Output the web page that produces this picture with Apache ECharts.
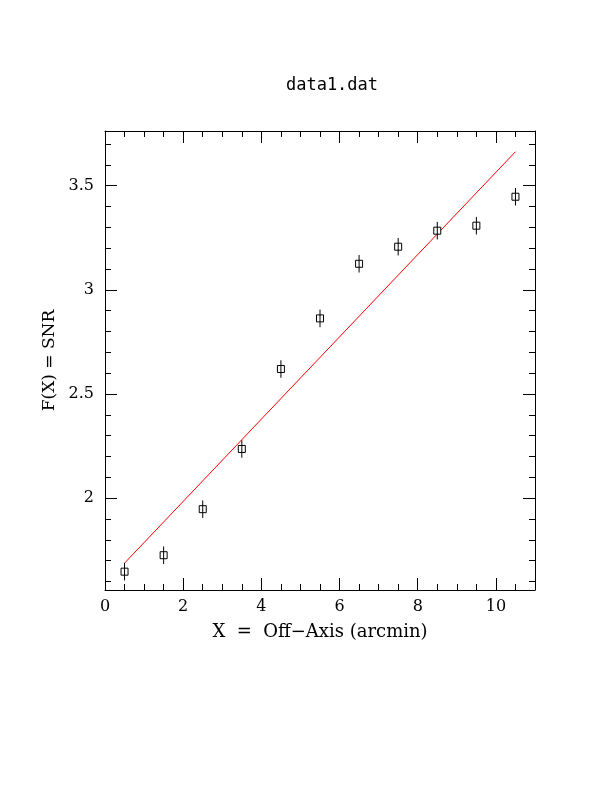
<!DOCTYPE html>
<html>
<head>
<meta charset="utf-8">
<script src="https://cdn.jsdelivr.net/npm/echarts@6/dist/echarts.min.js"></script>
<style>
  html, body { margin: 0; padding: 0; background: #fff; }
  #chart { width: 612px; height: 792px; }
</style>
</head>
<body>
<div id="chart"></div>
<script>
// off-axis position (arcmin) and measured SNR with error
const offAxis = [0.5, 1.5, 2.5, 3.5, 4.5, 5.5, 6.5, 7.5, 8.5, 9.5, 10.5]
const snr = [1.647, 1.726, 1.947, 2.236, 2.620, 2.863, 3.125, 3.207, 3.284, 3.308, 3.447]
const snrErr = [0.042, 0.042, 0.042, 0.042, 0.042, 0.042, 0.042, 0.042, 0.042, 0.042, 0.042]
// straight fit line
const fitX = [0.5, 10.5]
const fitY = [1.688, 3.663]

const serif = 'DejaVu Serif'
const points = offAxis.map((x, i) => [x, snr[i], snrErr[i]])

const myChart = echarts.init(document.getElementById('chart'))

const axisCommon = {
    axisLine: { show: true, onZero: false, lineStyle: { color: '#000', width: 1 } },
    axisTick: { show: true, inside: true, length: 12, lineStyle: { color: '#000', width: 1 } },
    minorTick: { show: true, length: 6, lineStyle: { color: '#000', width: 1 } },
    splitLine: { show: false },
    minorSplitLine: { show: false }
}

function xAxisDef(pos, labels) {
    return Object.assign({}, axisCommon, {
        type: 'value',
        position: pos,
        min: 0,
        max: 11,
        minInterval: 2,
        maxInterval: 2,
        minorTick: Object.assign({}, axisCommon.minorTick, { splitNumber: 4 }),
        axisLabel: {
            show: labels,
            margin: 9,
            color: '#000',
            fontFamily: serif,
            fontSize: 16,
            formatter: v => (Math.abs(v / 2 - Math.round(v / 2)) < 1e-6 ? String(v) : '')
        },
        name: labels ? 'X  =  Off\u2212Axis (arcmin)' : '',
        nameLocation: 'middle',
        nameGap: 33,
        nameTextStyle: { color: '#000', fontFamily: serif, fontSize: 18 }
    })
}

function yAxisDef(pos, labels) {
    return Object.assign({}, axisCommon, {
        type: 'value',
        position: pos,
        min: 1.559,
        max: 3.7625,
        minInterval: 0.5,
        maxInterval: 0.5,
        minorTick: Object.assign({}, axisCommon.minorTick, { splitNumber: 5 }),
        axisLabel: {
            show: labels,
            margin: 11,
            color: '#000',
            fontFamily: serif,
            fontSize: 16,
            formatter: v => (Math.abs(v * 2 - Math.round(v * 2)) < 1e-6 ? String(Math.round(v * 2) / 2) : '')
        },
        name: labels ? 'F(X) = SNR' : '',
        nameLocation: 'middle',
        nameGap: 46,
        nameTextStyle: { color: '#000', fontFamily: serif, fontSize: 17 }
    })
}

myChart.setOption({
    animation: false,
    backgroundColor: '#fff',
    title: {
        text: 'data1.dat',
        left: 327,
        top: 72,
        textAlign: 'center',
        textStyle: { color: '#000', fontFamily: 'DejaVu Sans Mono', fontWeight: 'normal', fontSize: 17 }
    },
    grid: { left: 105, right: 77, top: 131, bottom: 202 },
    xAxis: [xAxisDef('bottom', true), xAxisDef('top', false)],
    yAxis: [yAxisDef('left', true), yAxisDef('right', false)],
    series: [
        {
            type: 'line',
            data: fitX.map((x, i) => [x, fitY[i]]),
            showSymbol: false,
            lineStyle: { color: '#ff0000', width: 1 },
            z: 2
        },
        {
            type: 'custom',
            data: points,
            z: 3,
            renderItem: function (params, api) {
                const x = api.value(0), y = api.value(1), e = api.value(2)
                const c = api.coord([x, y])
                const lo = api.coord([x, y - e])
                const hi = api.coord([x, y + e])
                const h = 3.5
                return {
                    type: 'group',
                    children: [
                        { type: 'line', shape: { x1: c[0], y1: hi[1], x2: c[0], y2: lo[1] }, style: { stroke: '#000', lineWidth: 1 } },
                        { type: 'rect', shape: { x: c[0] - h, y: c[1] - h, width: 2 * h, height: 2 * h }, style: { fill: '#fff', stroke: '#000', lineWidth: 1 } },
                        { type: 'line', shape: { x1: c[0], y1: c[1] - h, x2: c[0], y2: c[1] + h }, style: { stroke: '#000', lineWidth: 1 } }
                    ]
                }
            }
        }
    ]
})
</script>
</body>
</html>
